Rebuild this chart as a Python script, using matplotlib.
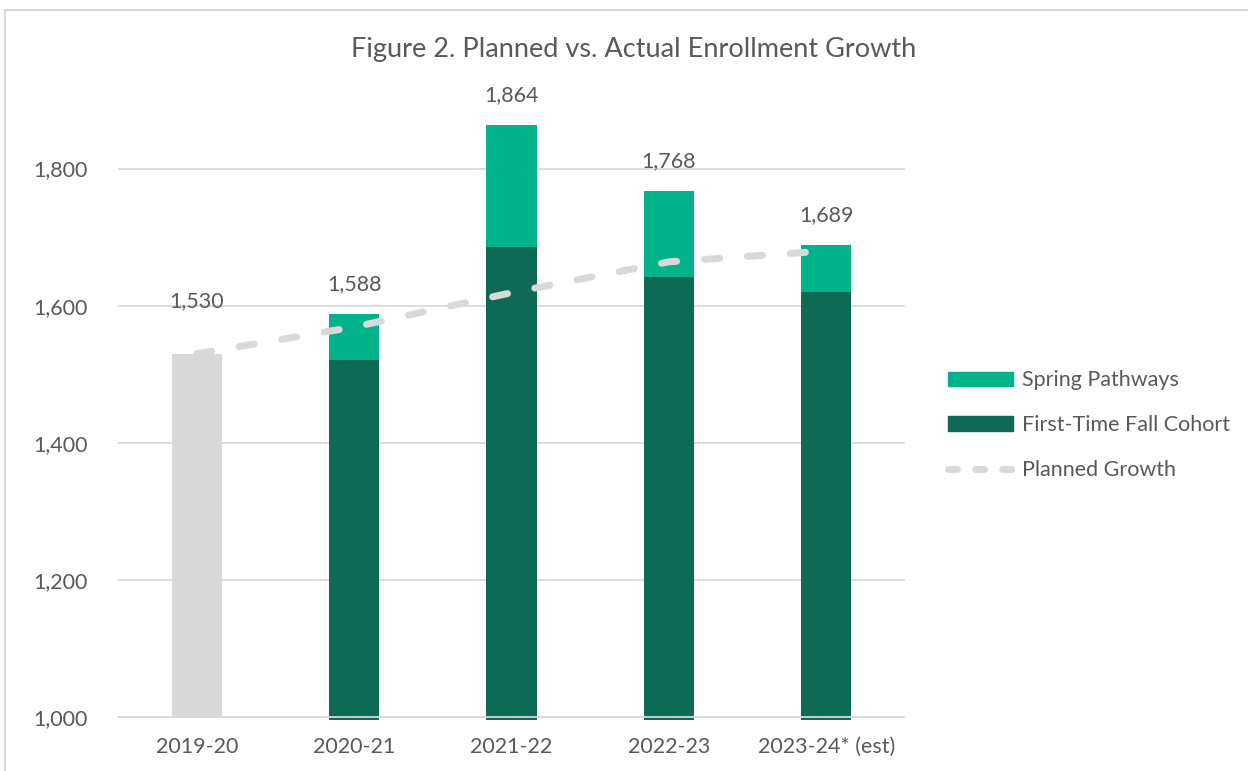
import matplotlib.pyplot as plt
from matplotlib.patches import Patch, Rectangle
from matplotlib.lines import Line2D

# data
years = ["2019-20", "2020-21", "2021-22", "2022-23", "2023-24* (est)"]
baseline = [1530, 0, 0, 0, 0]
fall_cohort = [0, 1521, 1685, 1642, 1620]
spring_pathways = [0, 67, 179, 126, 69]
totals = [1530, 1588, 1864, 1768, 1689]
planned = [1530, 1569, 1619, 1664, 1680]

# colours / styles
GRAY = "#D9D9D9"
SPRING = "#00B388"
FALL = "#0E6A54"
TXT = "#595959"
label_offsets = [31, 14, 14, 14, 14]  # points above bar top

plt.rcParams['font.family'] = ['Lato', 'DejaVu Sans']

fig = plt.figure(figsize=(12.48, 7.71), dpi=100)
# chart frame
fig.patches.append(Rectangle((5/1248, -0.1), 1.2, (771-10)/771 + 0.1,
                             transform=fig.transFigure, fill=False,
                             edgecolor=GRAY, linewidth=1.5))
ax = fig.add_axes([118/1248, 51/771, 787/1248, 620/771])

x = list(range(len(years)))
w = 0.32
ax.bar(x, [b - 1000 if b else 0 for b in baseline], width=w, bottom=1000,
       color=GRAY, zorder=2)
ax.bar(x, fall_cohort, width=w, color=FALL, zorder=2)
ax.bar(x, spring_pathways, width=w, bottom=fall_cohort, color=SPRING, zorder=2)
ax.plot(x, planned, color=GRAY, linewidth=5, dashes=(2.2, 4.0),
        dash_capstyle='round', solid_capstyle='round', zorder=3)

for i in range(len(years)):
    ax.annotate(f"{totals[i]:,}", (x[i], totals[i]), xytext=(0, label_offsets[i]),
                textcoords='offset points', ha='center', va='bottom',
                fontsize=15.5, color=TXT)

ax.set_xlim(-0.5, 4.5)
ax.set_ylim(996, 1900)
ax.set_yticks([1000, 1200, 1400, 1600, 1800])
ax.set_yticklabels([f"{v:,}" for v in [1000, 1200, 1400, 1600, 1800]])
ax.set_xticks(x)
ax.set_xticklabels(years)
ax.tick_params(axis='both', length=0, labelsize=15.5, labelcolor=TXT)
ax.tick_params(axis='y', pad=22)
ax.tick_params(axis='x', pad=12)
ax.grid(axis='y', color=GRAY, linewidth=1.3, zorder=0)
ax.set_axisbelow(True)
ax.axhline(1000, color=GRAY, linewidth=1.3, zorder=4)
for s in ax.spines.values():
    s.set_visible(False)

fig.text(634/1248, 1 - 49/771, "Figure 2. Planned vs. Actual Enrollment Growth",
         ha='center', va='center', fontsize=19.5, color=TXT)

handles = [Patch(color=SPRING), Patch(color=FALL),
           Line2D([0], [0], color=GRAY, linewidth=5, dashes=(1.3, 2.6),
                  dash_capstyle='round')]
fig.legend(handles, ["Spring Pathways", "First-Time Fall Cohort", "Planned Growth"],
           loc='upper left', bbox_to_anchor=(929/1248, 1 - 351/771),
           frameon=False, fontsize=15.5, labelcolor=TXT, handlelength=3.0,
           handleheight=0.65, handletextpad=0.4, labelspacing=1.15)

fig.savefig("out.png", dpi=100)
